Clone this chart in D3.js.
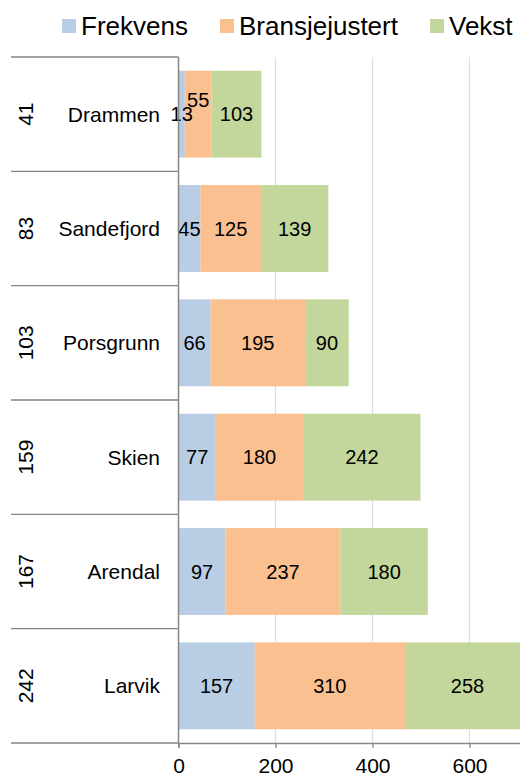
<!DOCTYPE html>
<html><head><meta charset="utf-8">
<script src="https://cdn.jsdelivr.net/npm/d3@7"></script>
<style>
html,body{margin:0;padding:0;background:#fff;}
svg{display:block;font-family:"Liberation Sans",Arial,sans-serif;}
</style></head>
<body>
<script>
const categories = ["Drammen","Sandefjord","Porsgrunn","Skien","Arendal","Larvik"];
const outerLabels = ["41","83","103","159","167","242"];
const frekvens = [13,45,66,77,97,157];
const bransjejustert = [55,125,195,180,237,310];
const vekst = [103,139,90,242,180,258];
const seriesNames = ["Frekvens","Bransjejustert","Vekst"];
const seriesColors = ["#B9CDE5","#FAC090","#C3D69B"];
const tickValues = [0,200,400,600];

const W = 520, H = 776;
const svg = d3.select("body").append("svg").attr("width", W).attr("height", H);

const x = d3.scaleLinear().domain([0, 800]).range([178.5, 566.5]);
const y = d3.scaleBand().domain(categories).range([57, 743]).paddingInner(0.24).paddingOuter(0.12);
const step = y.step();

// gridlines
svg.append("g").selectAll("line").data(tickValues.slice(1)).join("line")
  .attr("x1", d => x(d)).attr("x2", d => x(d))
  .attr("y1", 57).attr("y2", 743)
  .attr("stroke", "#D6E1F0").attr("stroke-width", 1.3);

// stacked bars
const rows = categories.map((c, i) => ({cat: c, Frekvens: frekvens[i], Bransjejustert: bransjejustert[i], Vekst: vekst[i]}));
const stacked = d3.stack().keys(seriesNames)(rows);

const gBars = svg.append("g");
stacked.forEach((s, si) => {
  gBars.append("g").selectAll("rect").data(s).join("rect")
    .attr("x", d => x(d[0]))
    .attr("width", d => x(d[1]) - x(d[0]))
    .attr("y", d => y(d.data.cat))
    .attr("height", y.bandwidth())
    .attr("fill", seriesColors[si]);
});

// data labels with overlap avoidance
const gLab = svg.append("g").attr("font-size", 20).attr("fill", "#000").attr("text-anchor", "middle");
categories.forEach((c, ci) => {
  let prevRight = -Infinity;
  let prevShift = 0;
  stacked.forEach((s, si) => {
    const d = s[ci];
    const cx = (x(d[0]) + x(d[1])) / 2;
    const cy = y(c) + y.bandwidth() / 2;
    const t = gLab.append("text").attr("x", cx).attr("y", cy).attr("dy", "0.36em").text(d.data[seriesNames[si]]);
    const w = t.node().getComputedTextLength();
    let shift = 0;
    if (cx - w / 2 < prevRight - 1 && prevShift === 0) shift = -14;
    t.attr("y", cy + shift);
    prevRight = cx + w / 2;
    prevShift = shift;
  });
});

// left category block separators
const axisColor = "#868686";
svg.append("g").selectAll("line").data(d3.range(categories.length + 1)).join("line")
  .attr("x1", 11).attr("x2", 178.5)
  .attr("y1", i => 57 + i * step).attr("y2", i => 57 + i * step)
  .attr("stroke", axisColor).attr("stroke-width", 1.3);

// vertical axis line
svg.append("line").attr("x1", 178.5).attr("x2", 178.5).attr("y1", 57).attr("y2", 743)
  .attr("stroke", axisColor).attr("stroke-width", 1.5);

// x axis
const xAxis = svg.append("g").attr("transform", "translate(0,743)")
  .call(d3.axisBottom(x).tickValues(tickValues).tickSize(5).tickPadding(10));
xAxis.select(".domain").attr("stroke", axisColor).attr("stroke-width", 1.3);
xAxis.selectAll(".tick line").attr("stroke", axisColor).attr("stroke-width", 1.3);
xAxis.selectAll(".tick text").attr("font-size", 21).attr("fill", "#000")
  .attr("font-family", "'Liberation Sans',Arial,sans-serif");

// inner category labels
svg.append("g").selectAll("text").data(categories).join("text")
  .attr("x", 160).attr("y", d => y(d) + y.bandwidth() / 2).attr("dy", "0.36em")
  .attr("text-anchor", "end").attr("font-size", 21).attr("fill", "#000")
  .text(d => d);

// outer labels rotated
svg.append("g").selectAll("text").data(outerLabels).join("text")
  .attr("transform", (d, i) => `translate(25,${y(categories[i]) + y.bandwidth() / 2}) rotate(-90)`)
  .attr("dy", "0.36em").attr("text-anchor", "middle").attr("font-size", 21).attr("fill", "#000")
  .text(d => d);

// legend
const legendX = [62, 220, 430];
const lg = svg.append("g");
seriesNames.forEach((n, i) => {
  lg.append("rect").attr("x", legendX[i]).attr("y", 19).attr("width", 14).attr("height", 14).attr("fill", seriesColors[i]);
  lg.append("text").attr("x", legendX[i] + 19).attr("y", 35).attr("font-size", 26).attr("fill", "#000").text(n);
});
</script>
</body></html>
